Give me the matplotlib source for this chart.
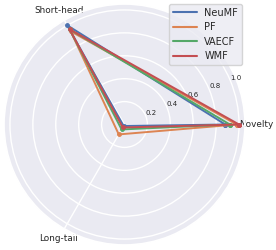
import numpy as np
import matplotlib
matplotlib.use("Agg")
import matplotlib.pyplot as plt
from matplotlib.lines import Line2D
import seaborn as sns

sns.set_theme(style="darkgrid")
plt.rcParams['font.family'] = ['DejaVu Sans']

categories = ["Novelty", "Short-head", "Long-tail"]
models = ["NeuMF", "PF", "VAECF", "WMF"]
neumf = [0.88, 1.00, 0.015]
pf = [0.98, 0.94, 0.10]
vaecf = [0.92, 0.96, 0.05]
wmf = [1.00, 0.96, 0.03]
series = [neumf, pf, vaecf, wmf]
colors = ["#4C72B0", "#DD8452", "#55A868", "#C44E52"]

fig = plt.figure(figsize=(2.76, 2.5), dpi=100)
cx, cy, R = 124.5, 124.5, 120.5
ax = fig.add_axes([(cx - R) / 276, (250 - cy - R) / 250, 2 * R / 276, 2 * R / 250], polar=True)

angles = np.linspace(0, 2 * np.pi, len(categories), endpoint=False)
ang_closed = np.concatenate([angles, angles[:1]])
for name, vals, c in zip(models, series, colors):
    v = list(vals) + [vals[0]]
    ax.plot(ang_closed, v, color=c, linewidth=1.4, marker='o', markersize=2.5)

ax.set_xticks(angles)
ax.set_xticklabels(categories, fontsize=6.4)
ax.set_ylim(0, 1.052)
ax.set_yticks([0.2, 0.4, 0.6, 0.8, 1.0])
ax.set_yticklabels(["0.2", "0.4", "0.6", "0.8", "1.0"], fontsize=5)
ax.tick_params(axis='x', pad=-5)

handles = [Line2D([0], [0], color=c, linewidth=1.5) for c in colors]
ax.legend(handles, models, loc='upper right', bbox_to_anchor=(242 / 276, 1 - 4 / 250),
          bbox_transform=fig.transFigure, borderaxespad=0, fontsize=7, handlelength=2.4,
          borderpad=0.4, labelspacing=0.45)

fig.savefig("out.png", dpi=100)
